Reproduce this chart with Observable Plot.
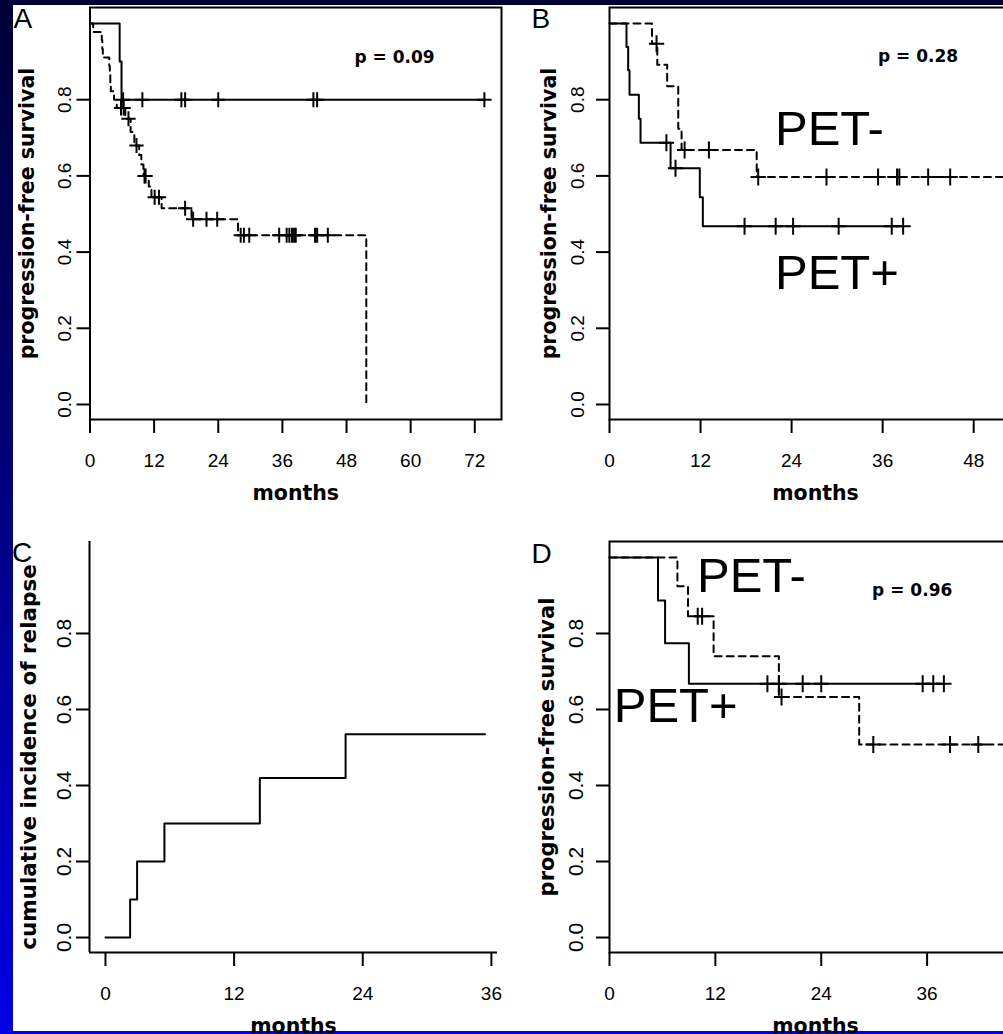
<!DOCTYPE html>
<html>
<head>
<meta charset="utf-8">
<script src="https://cdn.jsdelivr.net/npm/d3@7"></script>
<script src="https://cdn.jsdelivr.net/npm/@observablehq/plot@0.6"></script>
<style>
html, body { margin: 0; padding: 0; width: 1003px; height: 1034px; overflow: hidden; }
body { position: relative; background: linear-gradient(to bottom, #000038 0%, #000070 40%, #0000e6 100%); }
#sheet { position: absolute; left: 13px; top: 5px; width: 990px; height: 1026px; background: #ffffff; }
.panel { position: absolute; }
</style>
</head>
<body>
<div id="sheet"></div>
<div id="pA" class="panel" style="left:0px;top:0px"></div>
<div id="pB" class="panel" style="left:500px;top:0px"></div>
<div id="pC" class="panel" style="left:0px;top:510px"></div>
<div id="pD" class="panel" style="left:500px;top:510px"></div>
<script>
// ---------- texts ----------
const panelLetters = ["A", "B", "C", "D"];
const pValueTexts = ["p = 0.09", "p = 0.28", "p = 0.96"];
const groupLabels = ["PET-", "PET+"];
const yTitleSurvival = "progression-free survival";
const yTitleRelapse = "cumulative incidence of relapse";
const xTitle = "months";

// ---------- ticks ----------
const yTickValues = [0, 0.2, 0.4, 0.6, 0.8];
const xTicksA = [0, 12, 24, 36, 48, 60, 72];
const xTicksB = [0, 12, 24, 36, 48];
const xTicksC = [0, 12, 24, 36];
const xTicksD = [0, 12, 24, 36];

// ---------- panel A ----------
const aSolidTime = [0, 5.55, 5.9, 73.8];
const aSolidSurv = [1, 0.9, 0.8, 0.8];
const aSolidCensorTime = [6.2, 9.8, 17.1, 17.8, 24.0, 41.8, 42.5, 73.8];
const aSolidCensorSurv = [0.8, 0.8, 0.8, 0.8, 0.8, 0.8, 0.8, 0.8];

const aDashTime = [0, 0.6, 2.2, 2.3, 2.4, 3.6, 3.7, 3.8, 3.9, 4.5, 5.0, 6.6, 7.6, 8.3, 9.2, 9.6, 10.0, 11.0, 11.5, 13.4, 19.0, 27.7, 51.7];
const aDashSurv = [1, 0.978, 0.956, 0.933, 0.911, 0.889, 0.867, 0.844, 0.822, 0.8, 0.778, 0.75, 0.715, 0.68, 0.655, 0.63, 0.6, 0.572, 0.544, 0.515, 0.486, 0.444, 0];
const aDashCensorTime = [5.8, 6.3, 7.2, 8.7, 10.2, 10.4, 12.1, 12.9, 17.8, 19.3, 21.8, 23.8, 28.2, 28.8, 29.8, 35.4, 36.8, 37.3, 37.8, 38.2, 38.5, 42.1, 42.5, 44.5];
const aDashCensorSurv = [0.778, 0.778, 0.75, 0.68, 0.6, 0.6, 0.544, 0.544, 0.515, 0.486, 0.486, 0.486, 0.444, 0.444, 0.444, 0.444, 0.444, 0.444, 0.444, 0.444, 0.444, 0.444, 0.444, 0.444];

// ---------- panel B ----------
const bPosTime = [0, 2.24, 2.46, 2.64, 3.87, 4.09, 8.05, 11.9, 12.3, 38.7];
const bPosSurv = [1, 0.938, 0.877, 0.813, 0.75, 0.687, 0.62, 0.544, 0.468, 0.468];
const bPosCensorTime = [7.5, 8.7, 17.8, 21.9, 24.2, 30.2, 37.2, 38.7];
const bPosCensorSurv = [0.687, 0.62, 0.468, 0.468, 0.468, 0.468, 0.468, 0.468];

const bNegTime = [0, 5.6, 6.3, 7.6, 9.06, 9.5, 19.4, 53];
const bNegSurv = [1, 0.947, 0.892, 0.835, 0.724, 0.668, 0.597, 0.597];
const bNegCensorTime = [6.2, 9.9, 13.1, 19.6, 28.6, 35.4, 37.9, 38.2, 42.0, 44.9];
const bNegCensorSurv = [0.947, 0.668, 0.668, 0.597, 0.597, 0.597, 0.597, 0.597, 0.597, 0.597];

// ---------- panel C ----------
const cTime = [0, 2.3, 2.95, 5.5, 14.4, 22.4, 35.4];
const cIncidence = [0, 0.1, 0.2, 0.3, 0.42, 0.535, 0.535];

// ---------- panel D ----------
const dPosTime = [0, 5.5, 6.3, 9.0, 37.9];
const dPosSurv = [1, 0.887, 0.774, 0.668, 0.668];
const dPosCensorTime = [17.9, 19.2, 21.9, 24.0, 35.5, 36.7, 37.9];
const dPosCensorSurv = [0.668, 0.668, 0.668, 0.668, 0.668, 0.668, 0.668];

const dNegTime = [0, 7.7, 8.9, 11.8, 19.2, 28.3, 45.5];
const dNegSurv = [1, 0.924, 0.845, 0.74, 0.633, 0.508, 0.508];
const dNegCensorTime = [10.0, 10.5, 19.5, 29.9, 38.6, 41.8];
const dNegCensorSurv = [0.845, 0.845, 0.633, 0.508, 0.508, 0.508];

// ---------- drawing ----------
const Y_DOMAIN = [-0.0394, 1.042];
const FONT_NARROW = "'Liberation Sans Narrow','Arial Narrow','Liberation Sans',Arial,sans-serif";
const FONT_BOLD = "'DejaVu Sans',Verdana,sans-serif";
const FONT_ARIAL = "'Liberation Sans',Arial,sans-serif";

const rows = (t, s) => t.map((v, i) => ({t: v, s: s[i]}));

function plusSymbol(hw) {
  return {
    draw(ctx, size) {
      const r = Math.sqrt(size / Math.PI);
      ctx.moveTo(-r * hw, 0); ctx.lineTo(r * hw, 0);
      ctx.moveTo(0, -r); ctx.lineTo(0, r);
    }
  };
}

function panel(cfg) {
  const marks = [];
  if (cfg.box === "full") {
    marks.push(Plot.frame({stroke: "black", strokeWidth: 2}));
  } else {
    marks.push(Plot.ruleX([cfg.xDomain[0]], {stroke: "black", strokeWidth: 2}));
    marks.push(Plot.ruleY([Y_DOMAIN[0]], {stroke: "black", strokeWidth: 2}));
  }
  marks.push(Plot.axisX({
    ticks: cfg.xTicks, tickSize: 14, tickPadding: 20, strokeWidth: 2,
    fontSize: 19, fontFamily: FONT_NARROW, label: null, tickFormat: d => String(d)
  }));
  marks.push(Plot.axisY({
    ticks: yTickValues, tickSize: 13, tickPadding: cfg.yPad, tickRotate: -90, strokeWidth: 2,
    fontSize: cfg.yFont, fontFamily: FONT_NARROW, label: null, tickFormat: d3.format(".1f")
  }));
  for (const s of cfg.series) {
    marks.push(Plot.line(rows(s.time, s.surv), {
      x: "t", y: "s", curve: "step-after", stroke: "black", strokeWidth: 2,
      ...(s.dashed ? {strokeDasharray: "7,5"} : {})
    }));
    if (s.cTime) {
      marks.push(Plot.dot(rows(s.cTime, s.cSurv), {
        x: "t", y: "s", r: cfg.crossR, symbol: plusSymbol(cfg.crossHW),
        stroke: "black", strokeWidth: 2, fill: "none"
      }));
    }
  }
  // axis titles
  marks.push(Plot.text([cfg.yTitle], {
    text: d => d, frameAnchor: "left", rotate: -90, textAnchor: "middle", lineAnchor: "bottom",
    dx: cfg.yTitleDx, dy: cfg.yTitleDy || 0, fontSize: cfg.yTitleSize, fontWeight: "bold", fontFamily: FONT_BOLD, fill: "black"
  }));
  marks.push(Plot.text([xTitle], {
    text: d => d, frameAnchor: "bottom", lineAnchor: "bottom", dy: 80,
    fontSize: 20.5, fontWeight: "bold", fontFamily: FONT_BOLD, fill: "black"
  }));
  // panel letter
  marks.push(Plot.text([cfg.letter], {
    text: d => d, frameAnchor: "top-left", textAnchor: "start", lineAnchor: "top",
    dx: cfg.letterDx, dy: cfg.letterDy, fontSize: 28, fontFamily: FONT_ARIAL, fill: "black"
  }));
  if (cfg.pText) {
    marks.push(Plot.text([cfg.pText], {
      text: d => d, frameAnchor: "top-left", textAnchor: "middle", lineAnchor: "bottom",
      dx: cfg.pDx, dy: cfg.pDy, fontSize: 17, fontWeight: "bold", fontFamily: FONT_BOLD, fill: "black"
    }));
  }
  for (const g of (cfg.groups || [])) {
    marks.push(Plot.text([g.text], {
      text: d => d, frameAnchor: "top-left", textAnchor: "start", lineAnchor: "bottom",
      dx: g.dx, dy: g.dy, fontSize: 49, fontFamily: FONT_ARIAL, fill: "black"
    }));
  }
  return Plot.plot({
    width: cfg.width, height: cfg.height,
    marginLeft: cfg.ml, marginRight: cfg.mr, marginTop: cfg.mt, marginBottom: cfg.mb,
    x: {domain: cfg.xDomain},
    y: {domain: Y_DOMAIN},
    style: {background: "none", maxWidth: "none", overflow: "visible", color: "black", fontFamily: FONT_NARROW},
    marks
  });
}

const A = panel({
  width: 502, height: 510, ml: 89.5, mr: 1, mt: 7, mb: 91,
  xDomain: [0, 77], xTicks: xTicksA, box: "full", yPad: 6.5, yFont: 19,
  crossR: 7.5, crossHW: 0.95,
  series: [
    {time: aSolidTime, surv: aSolidSurv, cTime: aSolidCensorTime, cSurv: aSolidCensorSurv},
    {time: aDashTime, surv: aDashSurv, dashed: true, cTime: aDashCensorTime, cSurv: aDashCensorSurv}
  ],
  yTitle: yTitleSurvival, yTitleDx: -56, yTitleSize: 20.5,
  letter: panelLetters[0], letterDx: -76.5, letterDy: 1,
  pText: pValueTexts[0], pDx: 304.5, pDy: 55
});

const B = panel({
  width: 521, height: 510, ml: 109, mr: 0, mt: 7, mb: 91,
  xDomain: [0, 54.3], xTicks: xTicksB, box: "full", yPad: 13, yFont: 19,
  crossR: 8.5, crossHW: 0.9,
  series: [
    {time: bPosTime, surv: bPosSurv, cTime: bPosCensorTime, cSurv: bPosCensorSurv},
    {time: bNegTime, surv: bNegSurv, dashed: true, cTime: bNegCensorTime, cSurv: bNegCensorSurv}
  ],
  yTitle: yTitleSurvival, yTitleDx: -54, yTitleSize: 20.5,
  letter: panelLetters[1], letterDx: -78, letterDy: 1,
  pText: pValueTexts[1], pDx: 308.5, pDy: 54.7,
  groups: [{text: groupLabels[0], dx: 165.5, dy: 137}, {text: groupLabels[1], dx: 165.5, dy: 281}]
});

const C = panel({
  width: 497, height: 524, ml: 89, mr: 0, mt: 31, mb: 82,
  xDomain: [-1.49, 36.57], xTicks: xTicksC, box: "L", yPad: 6, yFont: 21,
  crossR: 8.5, crossHW: 0.9,
  series: [{time: cTime, surv: cIncidence}],
  yTitle: yTitleRelapse, yTitleDx: -54, yTitleDy: 10, yTitleSize: 21.5,
  letter: panelLetters[2], letterDx: -77.4, letterDy: 1
});

const D = panel({
  width: 521, height: 524, ml: 109, mr: 0, mt: 31, mb: 82,
  xDomain: [0, 46.7], xTicks: xTicksD, box: "full", yPad: 14, yFont: 21,
  crossR: 8.5, crossHW: 0.9,
  series: [
    {time: dPosTime, surv: dPosSurv, cTime: dPosCensorTime, cSurv: dPosCensorSurv},
    {time: dNegTime, surv: dNegSurv, dashed: true, cTime: dNegCensorTime, cSurv: dNegCensorSurv}
  ],
  yTitle: yTitleSurvival, yTitleDx: -56, yTitleSize: 21,
  letter: panelLetters[3], letterDx: -78, letterDy: 2,
  pText: pValueTexts[2], pDx: 302.7, pDy: 54,
  groups: [{text: groupLabels[0], dx: 87.5, dy: 50.7}, {text: groupLabels[1], dx: 4.2, dy: 180.7}]
});

document.getElementById("pA").append(A);
document.getElementById("pB").append(B);
document.getElementById("pC").append(C);
document.getElementById("pD").append(D);
</script>
</body>
</html>
